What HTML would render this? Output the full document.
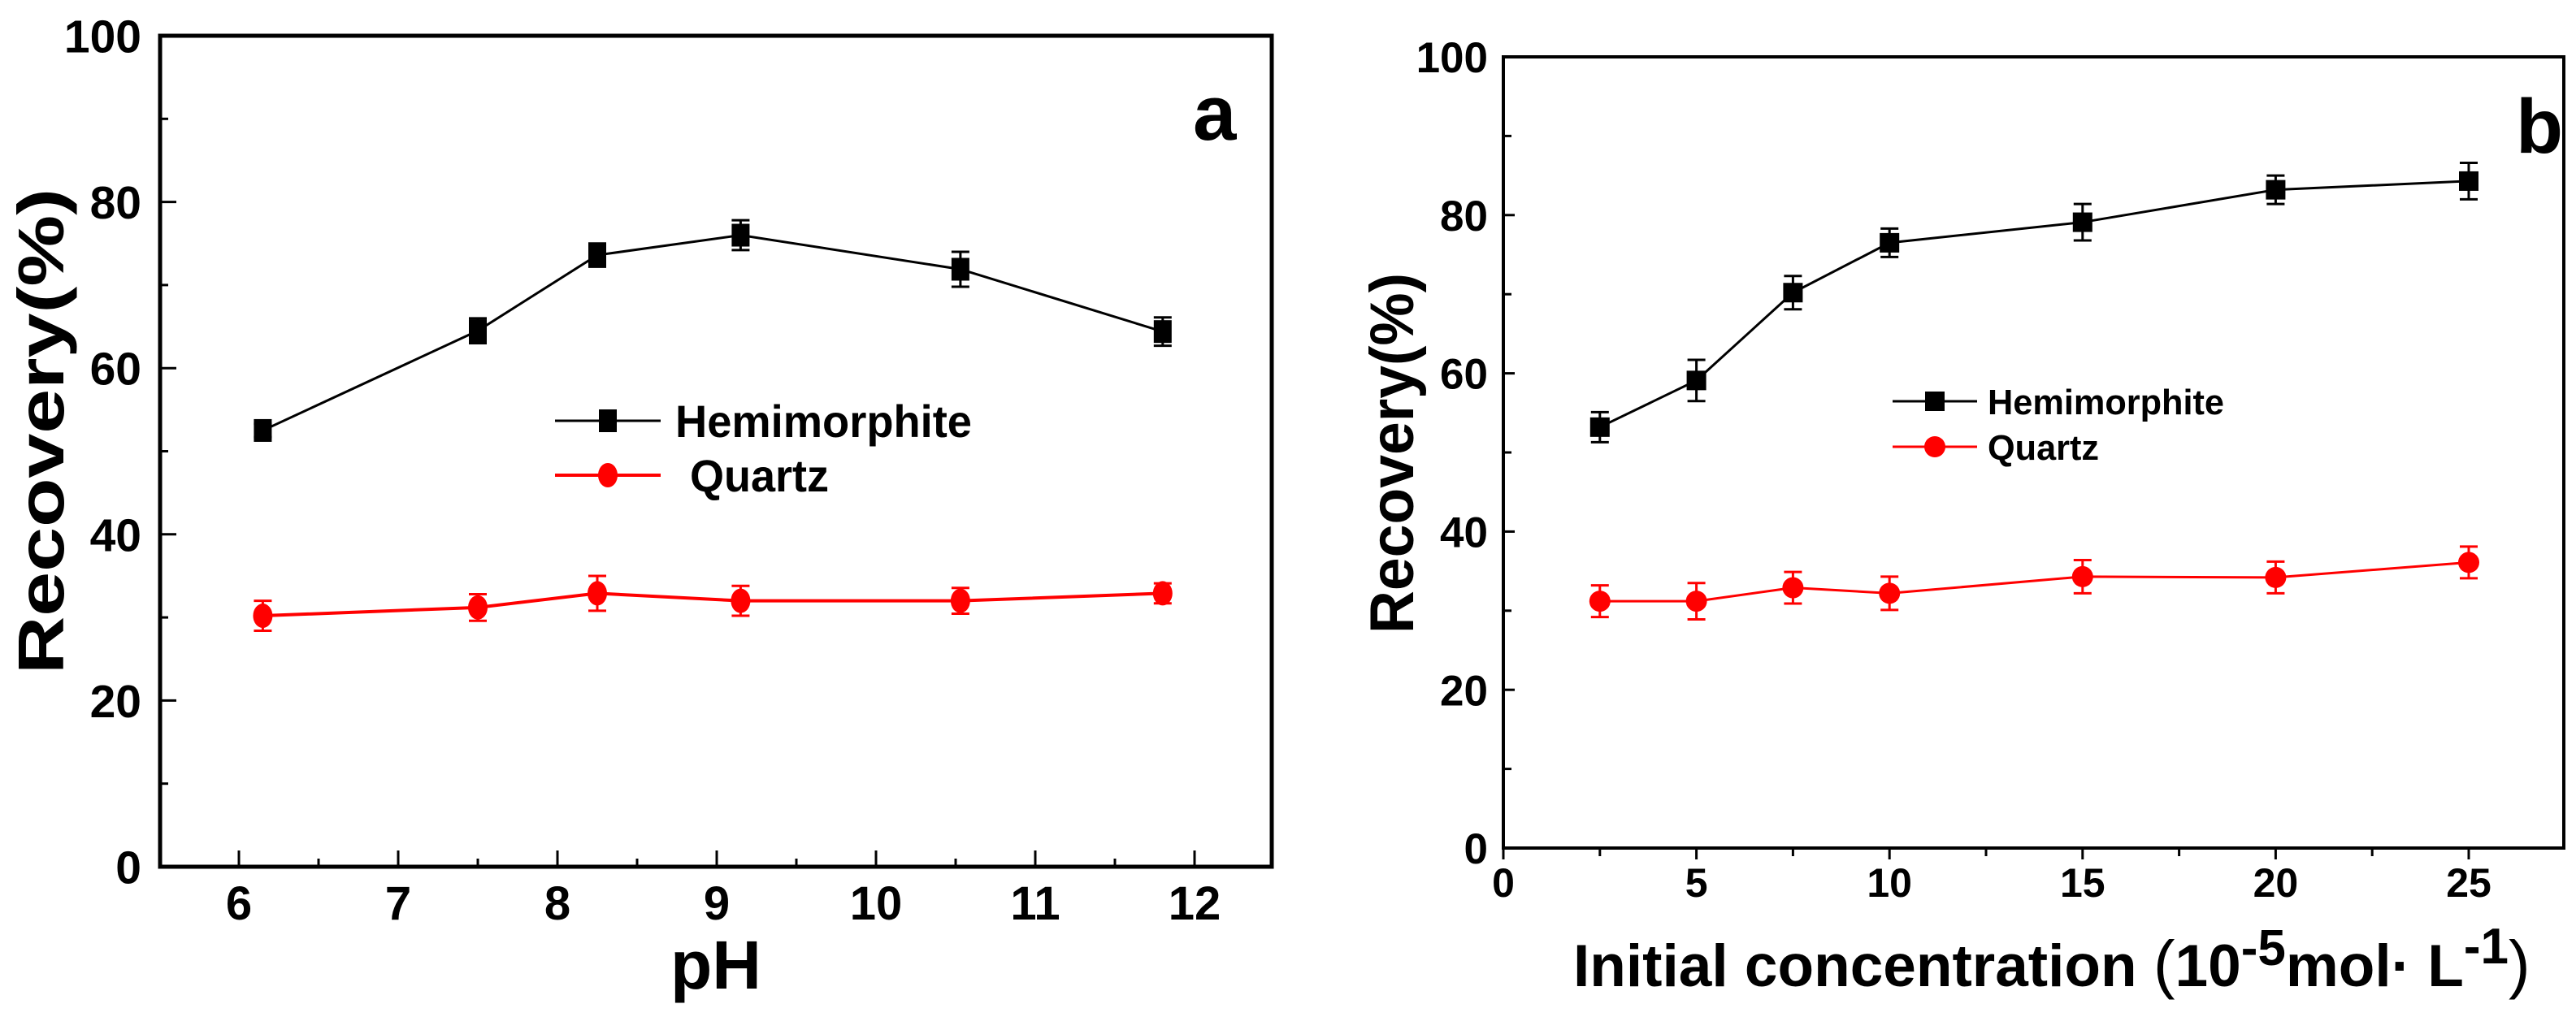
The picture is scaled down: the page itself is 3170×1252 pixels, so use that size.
<!DOCTYPE html>
<html><head><meta charset="utf-8"><style>
html,body{margin:0;padding:0;background:#fff;}
svg{display:block;font-family:"Liberation Sans",Arial,sans-serif;font-weight:bold;}
</style></head><body>
<svg id="fig" width="3170" height="1252" viewBox="0 0 3170 1252" xmlns="http://www.w3.org/2000/svg">
<g id="pa"></g>
<g id="pb"></g>
</svg>
<script>
// Panel a data
const phValues = [6.15, 7.5, 8.25, 9.15, 10.53, 11.8];
const hemiA = [52.5, 64.5, 73.6, 76.0, 71.9, 64.4];
const hemiAErr = [0.8, 1.5, 1.4, 1.8, 2.1, 1.7];
const quartzA = [30.2, 31.2, 32.9, 32.0, 32.0, 32.9];
const quartzAErr = [1.8, 1.6, 2.1, 1.8, 1.55, 1.2];
const xTicksA = [6, 7, 8, 9, 10, 11, 12];
const yTicks = [0, 20, 40, 60, 80, 100];
// Panel b data
const concValues = [2.5, 5, 7.5, 10, 15, 20, 25];
const hemiB = [53.2, 59.1, 70.2, 76.5, 79.1, 83.2, 84.3];
const hemiBErr = [1.9, 2.6, 2.1, 1.8, 2.3, 1.8, 2.3];
const quartzB = [31.2, 31.2, 32.9, 32.2, 34.3, 34.2, 36.1];
const quartzBErr = [2.0, 2.3, 2.0, 2.1, 2.1, 2.0, 2.0];
const xTicksB = [0, 5, 10, 15, 20, 25];

const NS = "http://www.w3.org/2000/svg";
function mk(parent, tag, attrs, text) {
  const e = document.createElementNS(NS, tag);
  for (const k in attrs) e.setAttribute(k, attrs[k]);
  if (text !== undefined) e.textContent = text;
  parent.appendChild(e);
  return e;
}

function drawPanel(g, cfg) {
  const xs = v => cfg.L + (v - cfg.x0) / (cfg.x1 - cfg.x0) * (cfg.R - cfg.L);
  const ys = v => cfg.B - v / 100 * (cfg.B - cfg.T);
  const fr = mk(g, 'rect', {x: cfg.L, y: cfg.T, width: cfg.R - cfg.L, height: cfg.B - cfg.T, fill: 'none', stroke: '#000', 'stroke-width': cfg.aw});
  
  
  for (let v = 0; v <= 100; v += 10) {
    const major = v % 20 === 0;
    const t = mk(g, 'line', {x1: cfg.L, x2: cfg.L + (major ? cfg.maj : cfg.min), y1: ys(v), y2: ys(v), stroke: '#000', 'stroke-width': 3});
    
    
  }
  yTicks.forEach(v => {
    const t = mk(g, 'text', {x: cfg.ylx, y: ys(v) + cfg.yfs * 0.36, 'text-anchor': 'end', 'font-size': cfg.yfs}, String(v));
    
    
  });
  cfg.xTicks.forEach(v => {
    const x = xs(v);
    const t = mk(g, 'line', {x1: x, x2: x, y1: cfg.B, y2: cfg.B + cfg.xdir * cfg.maj, stroke: '#000', 'stroke-width': 3});
    
    
    const l = mk(g, 'text', {x: x, y: cfg.xly, 'text-anchor': 'middle', 'font-size': cfg.xfs}, String(v));
    
    
    const mv = v + cfg.minorStep;
    if (xs(mv) < cfg.R - 5) {
      const m = mk(g, 'line', {x1: xs(mv), x2: xs(mv), y1: cfg.B, y2: cfg.B + cfg.xdir * cfg.min, stroke: '#000', 'stroke-width': 3});
      
      
    }
  });
  cfg.series.forEach(s => {
    const sg = mk(g, 'g', {});
    
    
    const pts = cfg.xv.map((v, i) => xs(v) + ',' + ys(s.vals[i])).join(' ');
    const pl = mk(sg, 'polyline', {points: pts, fill: 'none', stroke: s.color, 'stroke-width': s.lw});
    
    
    cfg.xv.forEach((v, i) => {
      const x = xs(v), y = ys(s.vals[i]), e = s.err[i];
      const eb = mk(sg, 'path', {d: `M${x},${ys(s.vals[i]+e)}V${ys(s.vals[i]-e)}M${x-11},${ys(s.vals[i]+e)}H${x+11}M${x-11},${ys(s.vals[i]-e)}H${x+11}`, stroke: s.color, 'stroke-width': 3, fill: 'none'});
      
      
      let m;
      if (s.shape === 'square') m = mk(sg, 'rect', {x: x - cfg.ms/2, y: y - cfg.msh/2, width: cfg.ms, height: cfg.msh, fill: s.color});
      else m = mk(sg, 'ellipse', {cx: x, cy: y, rx: cfg.ms/2 + 1, ry: cfg.msh/2 + 1, fill: s.color});
      
      
    });
  });
  const lg = mk(g, 'g', {});
  
  
  cfg.series.forEach((s, i) => {
    const ly = cfg.leg.y[i];
    const en = mk(lg, 'g', {});
    
    
    mk(en, 'line', {x1: cfg.leg.x1, x2: cfg.leg.x2, y1: ly, y2: ly, stroke: s.color, 'stroke-width': s.lw});
    const mx = (cfg.leg.x1 + cfg.leg.x2) / 2;
    if (s.shape === 'square') mk(en, 'rect', {x: mx - cfg.ms/2, y: ly - cfg.msh/2, width: cfg.ms, height: cfg.msh, fill: s.color});
    else mk(en, 'ellipse', {cx: mx, cy: ly, rx: cfg.ms/2 + 1, ry: cfg.msh/2 + 1, fill: s.color});
    const t = mk(en, 'text', {x: cfg.leg.tx[i], y: ly + cfg.leg.fs * 0.36, 'font-size': cfg.leg.fs, textLength: cfg.leg.tl[i], lengthAdjust: 'spacingAndGlyphs'}, s.label);
    
    
  });
}

drawPanel(document.getElementById('pa'), {
  L: 197, R: 1565, T: 44, B: 1067, x0: 6 - 97/196, x1: 6 + (1565 - 294) / 196,
  aw: 5, maj: 20, min: 10, xdir: -1, minorStep: 0.5,
  ylx: 174, yfs: 57, xly: 1132, xfs: 58, xTicks: xTicksA, xv: phValues,
  ms: 22, msh: 28,
  series: [
    {name: 'hemimorphite', label: 'Hemimorphite', vals: hemiA, err: hemiAErr, color: '#000', lw: 3, shape: 'square'},
    {name: 'quartz', label: 'Quartz', vals: quartzA, err: quartzAErr, color: '#ff0000', lw: 4, shape: 'circle'}
  ],
  leg: {x1: 683, x2: 813, y: [518, 585], tx: [831, 849], tl: [365, 171], fs: 56}
});
drawPanel(document.getElementById('pb'), {
  L: 1850, R: 3155, T: 70, B: 1044, x0: 0, x1: (3155 - 1850) / 47.52,
  aw: 4, maj: 14, min: 10, xdir: 1, minorStep: 2.5,
  ylx: 1831, yfs: 53, xly: 1104, xfs: 50, xTicks: xTicksB, xv: concValues,
  ms: 24, msh: 24,
  series: [
    {name: 'hemimorphite', label: 'Hemimorphite', vals: hemiB, err: hemiBErr, color: '#000', lw: 3, shape: 'square'},
    {name: 'quartz', label: 'Quartz', vals: quartzB, err: quartzBErr, color: '#ff0000', lw: 3, shape: 'circle'}
  ],
  leg: {x1: 2329, x2: 2433, y: [494, 550], tx: [2446, 2446], tl: [291, 137], fs: 44}
});
</script>
<svg style="position:absolute;left:0;top:0" width="3170" height="1252" font-family="Liberation Sans, Arial, sans-serif" font-weight="bold">
  <text transform="translate(78,531) rotate(-90)" text-anchor="middle" font-size="80" textLength="598" lengthAdjust="spacingAndGlyphs">Recovery(%)</text>
  <text x="881" y="1217" text-anchor="middle" font-size="84">pH</text>
  <text x="1468" y="172" font-size="96">a</text>
  <text transform="translate(1739,558) rotate(-90)" text-anchor="middle" font-size="76" textLength="444" lengthAdjust="spacingAndGlyphs">Recovery(%)</text>
  <text x="1936" y="1214" font-size="73">Initial concentration <tspan font-weight="normal" font-size="80">(</tspan>10<tspan dy="-26" font-size="62">-5</tspan><tspan dy="26">mol·  L</tspan><tspan dy="-28" font-size="62">-1</tspan><tspan dy="28" font-weight="normal" font-size="80">)</tspan></text>
  <text x="3096" y="188" font-size="95">b</text>
</svg>
</body></html>
